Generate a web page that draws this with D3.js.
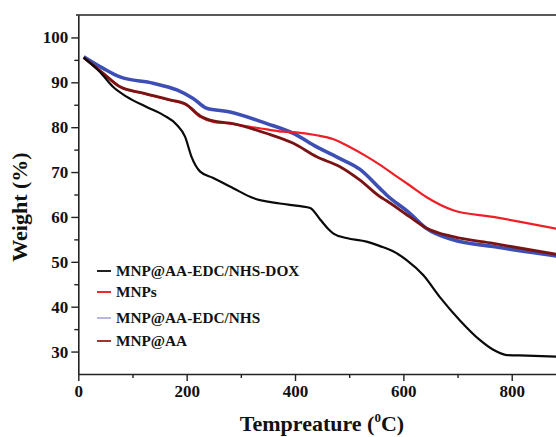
<!DOCTYPE html>
<html><head><meta charset="utf-8">
<script src="https://cdn.jsdelivr.net/npm/d3@7"></script>
<style>body{margin:0;background:#fff}svg{display:block}</style>
</head><body>
<svg id="chart" width="556" height="437"></svg>
<script>
// ---- data ----
const doxT = [10,40,64,89,126,157,182,197,209,225,249,286,323,372,410,428,446,460,471,495,532,557,580,606,637,667,704,741,766,791,828,900];
const doxW = [95.5,92.3,89,86.8,84.5,82.7,80.5,77.9,73.4,70.1,68.7,66.4,64.2,63,62.4,62,59.5,57.5,56.3,55.3,54.5,53.5,52.4,50.4,47,42.2,37,32.6,30.4,29.2,29.1,28.8];
const mnpT = [10,46,77,120,169,200,225,249,280,317,348,378,397,440,471,501,532,557,582,612,643,692,766,816,900];
const mnpW = [95.5,92,89,87.5,86,84.9,82.3,81.2,80.8,80.1,79.5,79,78.9,78.2,77.3,75.6,73.5,71.6,69.5,67.0,64.4,61.5,60,58.9,57];
const edcT = [10,46,77,138,182,212,237,280,348,397,440,483,520,557,569,612,643,692,766,900];
const edcW = [95.7,93.1,91.2,89.8,88.3,86.4,84.2,83.4,80.8,78.6,75.6,73,70.6,66.3,64.9,60.8,57.4,54.9,53.4,51];
const aaT = [10,46,77,120,169,200,225,249,280,348,397,440,483,520,557,569,612,643,692,766,900];
const aaW = [95.5,92,89,87.6,86.1,85,82.5,81.4,80.9,78.6,76.4,73.4,71.2,68.2,64.5,63.6,60,57.5,55.6,54.1,51.3];
const seriesNames = ["MNP@AA-EDC/NHS-DOX","MNPs","MNP@AA-EDC/NHS","MNP@AA"];
const xTicks = [0,200,400,600,800];
const xMinor = [100,300,500,700];
const yTicks = [30,40,50,60,70,80,90,100];
const yMinor = [35,45,55,65,75,85,95];

const svg = d3.select("#chart");
const x = d3.scaleLinear().domain([0,900]).range([78.3,565.9]);
const y = d3.scaleLinear().domain([25,105]).range([374,15]);
const font = "'Liberation Serif','Times New Roman',serif";

// frame
svg.append("line").attr("x1",76).attr("x2",556).attr("y1",15).attr("y2",15).attr("stroke","#222").attr("stroke-width",1.6);

svg.append("g").attr("transform","translate(0,374)")
  .call(d3.axisBottom(x).tickValues(xTicks).tickSize(7).tickSizeOuter(0).tickPadding(4));
svg.append("g").attr("transform","translate(0,374)")
  .call(d3.axisBottom(x).tickValues(xMinor).tickSize(4).tickFormat(""))
  .select(".domain").remove();
svg.append("g").attr("transform","translate(78.3,0)")
  .call(d3.axisLeft(y).tickValues(yTicks).tickSize(7).tickSizeOuter(0).tickPadding(3));
svg.append("g").attr("transform","translate(78.3,0)")
  .call(d3.axisLeft(y).tickValues(yMinor).tickSize(4).tickFormat(""))
  .select(".domain").remove();
svg.selectAll(".domain").attr("stroke","#222").attr("stroke-width",1.6);
svg.selectAll(".tick line").attr("stroke","#222").attr("stroke-width",1.4);
svg.selectAll(".tick text").attr("font-family",font).attr("font-weight","bold").attr("font-size",17).attr("fill","#111");

// lines
const line = d3.line().curve(d3.curveMonotoneX);
function draw(T,W,color,w){
  svg.append("path").attr("d",line(T.map((t,i)=>[x(t),y(W[i])])))
    .attr("fill","none").attr("stroke",color).attr("stroke-width",w).attr("stroke-linejoin","round");
}
draw(edcT,edcW,"#3d4fb4",3.6);
draw(mnpT,mnpW,"#ee1f26",2.2);
draw(aaT,aaW,"#7a1414",2.8);
draw(doxT,doxW,"#0a0a0a",2.2);

// legend
const legColors = ["#222","#ee2a2a","#b7b7e2","#a23434"];
const legY = [271,292,318,341];
seriesNames.forEach((n,i)=>{
  svg.append("line").attr("x1",97).attr("x2",111).attr("y1",legY[i]).attr("y2",legY[i])
    .attr("stroke",legColors[i]).attr("stroke-width",2);
  svg.append("text").attr("x",116).attr("y",legY[i]).attr("dy","0.35em")
    .attr("font-family",font).attr("font-weight","bold").attr("font-size",15.3).attr("fill","#111").text(n);
});

// axis titles
const xt = svg.append("text").attr("x",322).attr("y",431).attr("text-anchor","middle")
  .attr("font-family",font).attr("font-weight","bold").attr("font-size",22).attr("fill","#111");
xt.append("tspan").text("Tempreature (");
xt.append("tspan").attr("font-size",13).attr("dy",-9).text("0");
xt.append("tspan").attr("dy",9).text("C)");
svg.append("text").attr("transform","translate(27,207) rotate(-90)").attr("text-anchor","middle")
  .attr("font-family",font).attr("font-weight","bold").attr("font-size",22).attr("fill","#111").text("Weight (%)");
</script>
</body></html>
